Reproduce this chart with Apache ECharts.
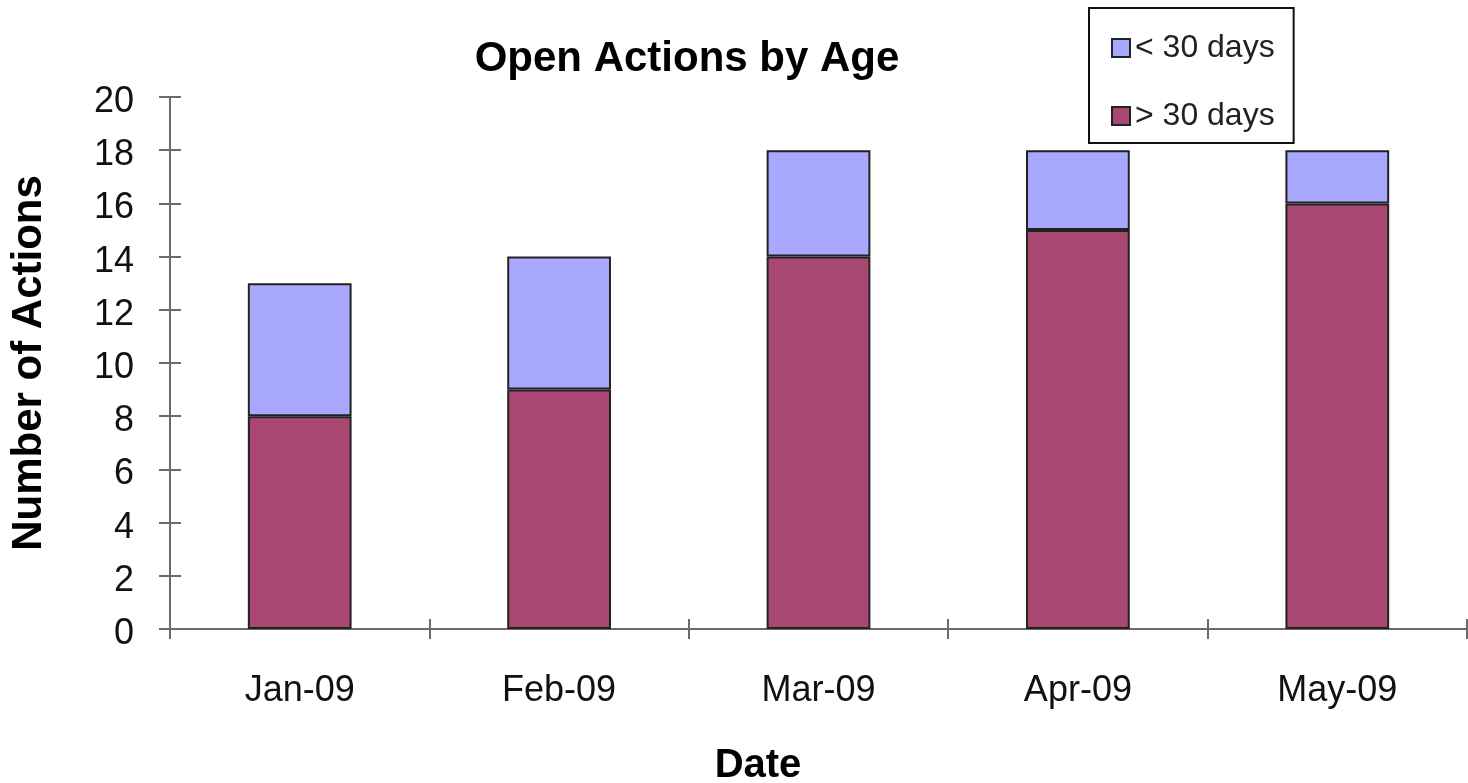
<!DOCTYPE html>
<html>
<head>
<meta charset="utf-8">
<title>Open Actions by Age</title>
<script src="https://cdn.jsdelivr.net/npm/echarts@6/dist/echarts.min.js"></script>
<style>
  html, body { margin: 0; padding: 0; background: #ffffff; }
  #chart { width: 1468px; height: 783px; }
</style>
</head>
<body>
<div id="chart"></div>
<script>
// Monthly counts of open actions, split by age
const months = ['Jan-09', 'Feb-09', 'Mar-09', 'Apr-09', 'May-09'];
const olderThan30 = [8, 9, 14, 15, 16];
const newerThan30 = [5, 5, 4, 3, 2];
const seriesNames = ['< 30 days', '> 30 days'];

const FONT = '"Liberation Sans", Arial, Helvetica, sans-serif';
const AXIS_GREY = '#6a6a6a';
const BAR_EDGE = '#222222';

const chart = echarts.init(document.getElementById('chart'), null, { renderer: 'canvas' });

const valueAxisBase = {
  type: 'value',
  min: 0,
  max: 20,
  interval: 2,
  splitLine: { show: false },
  axisLine: { show: true, lineStyle: { color: AXIS_GREY, width: 2 } }
};

const categoryAxisBase = {
  type: 'category',
  data: months,
  boundaryGap: true,
  axisLine: { show: true, lineStyle: { color: AXIS_GREY, width: 2 } },
  splitLine: { show: false }
};

chart.setOption({
  animation: false,
  backgroundColor: '#ffffff',
  title: [
    {
      text: 'Open Actions by Age',
      left: 687,
      top: 38,
      textAlign: 'center',
      padding: 0,
      textStyle: { fontFamily: FONT, fontSize: 42, fontWeight: 'bold', color: '#000' }
    },
    {
      text: 'Date',
      left: 758,
      top: 746,
      textAlign: 'center',
      padding: 0,
      textStyle: { fontFamily: FONT, fontSize: 40, fontWeight: 'bold', color: '#000' }
    }
  ],
  legend: {
    orient: 'vertical',
    left: 1089,
    top: 8,
    padding: [24, 19, 11, 22],
    itemGap: 36,
    itemWidth: 18,
    itemHeight: 18,
    borderColor: '#111',
    borderWidth: 2,
    backgroundColor: '#ffffff',
    data: seriesNames.map(n => ({ name: n, icon: 'rect' })),
    textStyle: { fontFamily: FONT, fontSize: 32, lineHeight: 30, color: '#222' }
  },
  grid: { left: 169, right: 1, top: 97, bottom: 154, containLabel: false },
  xAxis: [
    Object.assign({}, categoryAxisBase, {
      axisTick: { show: true, length: 10, lineStyle: { color: AXIS_GREY, width: 2 } },
      axisLabel: { fontFamily: FONT, fontSize: 36, color: '#111', margin: 44 }
    }),
    Object.assign({}, categoryAxisBase, {
      position: 'bottom',
      axisTick: { show: true, inside: true, length: 10, lineStyle: { color: AXIS_GREY, width: 2 } },
      axisLabel: { show: false }
    })
  ],
  yAxis: [
    Object.assign({}, valueAxisBase, {
      name: 'Number of Actions',
      nameLocation: 'middle',
      nameGap: 120,
      nameRotate: 90,
      nameTextStyle: { fontFamily: FONT, fontSize: 42, fontWeight: 'bold', color: '#000' },
      axisTick: { show: true, length: 11, lineStyle: { color: AXIS_GREY, width: 2 } },
      axisLabel: {
        fontFamily: FONT, fontSize: 36, color: '#111', margin: 36,
        verticalAlign: 'top', lineHeight: 10
      }
    }),
    Object.assign({}, valueAxisBase, {
      position: 'left',
      axisTick: { show: true, inside: true, length: 11, lineStyle: { color: AXIS_GREY, width: 2 } },
      axisLabel: { show: false }
    })
  ],
  series: [
    {
      name: '> 30 days',
      type: 'bar',
      stack: 'age',
      barWidth: '40%',
      data: olderThan30,
      itemStyle: { color: '#a84872', borderColor: BAR_EDGE, borderWidth: 2 }
    },
    {
      name: '< 30 days',
      type: 'bar',
      stack: 'age',
      barWidth: '40%',
      data: newerThan30,
      itemStyle: { color: '#a8a8ff', borderColor: BAR_EDGE, borderWidth: 2 }
    }
  ]
});
</script>
</body>
</html>
